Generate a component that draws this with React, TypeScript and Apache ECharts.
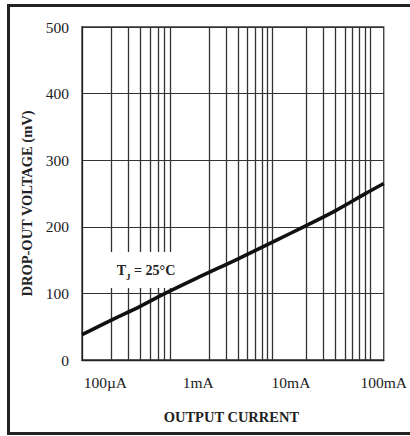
import React, { useEffect, useRef } from "react";
import * as echarts from "echarts";

// Output current (mA) and drop-out voltage (mV)
const currentMA = [0.056, 0.116, 0.24, 0.44, 1.0, 2.7, 7.0, 13.7, 30, 62, 100];
const dropoutMV = [38, 60, 81, 100, 124, 152, 180, 200, 224, 249, 265];

// x-axis tick labels (values in mA)
const xTickValues = [0.1, 1, 10, 100];
const xTickLabels = ["100\u00B5A", "1mA", "10mA", "100mA"];

// log "graph paper" vertical rulings (decade multiples, no decade lines)
const paperLines = [2, 3, 4, 5, 6, 7, 8, 20, 30, 40, 50, 60, 70, 80, 90, 200, 300, 400, 500, 600, 700, 800, 900];

const serif = "'Liberation Serif', 'Times New Roman', serif";

export default function App() {
  const ref = useRef<HTMLDivElement>(null);
  useEffect(() => {
    if (!ref.current) return;
    const chart = echarts.init(ref.current, null, { renderer: "svg" });
    chart.setOption({
      animation: false,
      backgroundColor: "#ffffff",
      grid: {
        left: 82,
        top: 27,
        right: 18,
        bottom: 76,
        show: true,
        borderColor: "#333",
        borderWidth: 1.3,
      },
      xAxis: [
        {
          type: "log",
          logBase: 10,
          min: 0.056,
          max: 100,
          name: "OUTPUT CURRENT",
          nameLocation: "middle",
          nameGap: 49,
          nameTextStyle: {
            fontFamily: serif,
            fontWeight: "bold",
            fontSize: 14.5,
            color: "#222",
            padding: [0, 3, 0, 0],
          },
          axisLine: { show: true, lineStyle: { color: "#222", width: 1.3 } },
          axisTick: { show: false },
          splitLine: { show: false },
          minorSplitLine: { show: false },
          axisLabel: {
            fontFamily: serif,
            fontSize: 15.5,
            color: "#222",
            margin: 14,
            formatter: (v: number) => {
              const i = xTickValues.findIndex(
                (t) => Math.abs(Math.log10(v) - Math.log10(t)) < 1e-6
              );
              return i >= 0 ? xTickLabels[i] : "";
            },
          },
        },
        {
          type: "log",
          logBase: 10,
          min: 1,
          max: 1250,
          show: false,
          splitLine: { show: false },
        },
      ],
      yAxis: {
        type: "value",
        min: 0,
        max: 500,
        interval: 100,
        name: "DROP-OUT VOLTAGE (mV)",
        nameLocation: "middle",
        nameRotate: 90,
        nameGap: 47,
        nameTextStyle: {
          fontFamily: serif,
          fontWeight: "bold",
          fontSize: 14.5,
          color: "#222",
          padding: [0, 20, 0, 0],
        },
        axisLine: { show: true, lineStyle: { color: "#222", width: 1.3 } },
        axisTick: { show: false },
        splitLine: { show: true, lineStyle: { color: "#333", width: 1.1 } },
        axisLabel: {
          fontFamily: serif,
          fontSize: 15.5,
          color: "#222",
          margin: 13,
        },
      },
      series: [
        {
          type: "line",
          xAxisIndex: 1,
          data: [],
          silent: true,
          z: 1,
          markLine: {
            z: 2,
            silent: true,
            symbol: ["none", "none"],
            label: { show: false },
            lineStyle: { color: "#333", width: 1.3, type: "solid" },
            data: paperLines.map((v) => ({ xAxis: v })),
          },
        },
        {
          type: "line",
          xAxisIndex: 0,
          data: currentMA.map((c, i) => [c, dropoutMV[i]]),
          smooth: 0.4,
          symbol: "none",
          z: 8,
          lineStyle: { color: "#111", width: 3.6 },
        },
      ],
      graphic: [
        {
          type: "rect",
          z: 0,
          silent: true,
          shape: { x: 8.5, y: 5.5, width: 410, height: 428 },
          style: { fill: "none", stroke: "#222", lineWidth: 3 },
        },
        {
          type: "rect",
          z: 6,
          silent: true,
          shape: { x: 104, y: 252, width: 76, height: 36 },
          style: { fill: "#ffffff" },
        },
        {
          type: "text",
          z: 9,
          silent: true,
          x: 146,
          y: 270,
          style: {
            text: "{t|T}{s|J}{t| = 25\u00B0C}",
            align: "center",
            verticalAlign: "middle",
            rich: {
              t: {
                fontFamily: serif,
                fontWeight: "bold",
                fontSize: 14,
                fill: "#222",
                lineHeight: 22,
                verticalAlign: "middle",
              },
              s: {
                fontFamily: serif,
                fontWeight: "bold",
                fontSize: 9,
                fill: "#222",
                lineHeight: 10,
                verticalAlign: "bottom",
              },
            },
          },
        },
      ],
    });
    return () => chart.dispose();
  }, []);
  return (
    <div
      ref={ref}
      style={{ position: "fixed", left: 0, top: 0, width: 410, height: 436 }}
    />
  );
}
